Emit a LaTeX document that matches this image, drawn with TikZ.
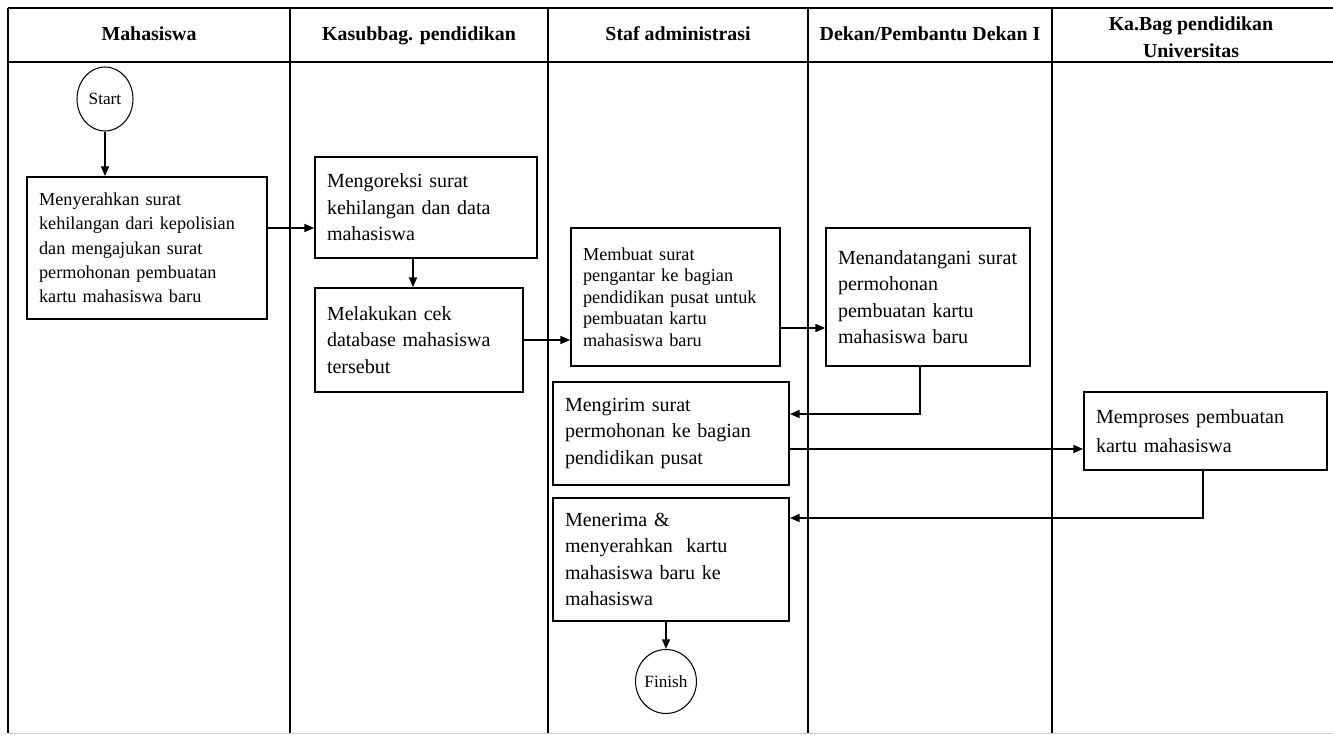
\documentclass[tikz,border=0pt]{standalone}
\usepackage{fontspec}
\setmainfont{Liberation Serif}
\usetikzlibrary{shapes.geometric,arrows.meta}
\begin{document}
\begin{tikzpicture}[x=0.02cm, y=-0.02cm,
  lane/.style={line width=0.85pt},
  head/.style={font=\bfseries\fontsize{11.3}{15.4}\selectfont, align=center},
  stepbox/.style={draw, line width=1pt, align=left, inner xsep=0.24cm, fill=white},
  smalltxt/.style={font=\fontsize{10.4}{13.8}\selectfont},
  bigtxt/.style={font=\fontsize{11.4}{15.1}\selectfont},
  term/.style={draw, ellipse, line width=0.6pt, inner sep=0pt, minimum width=1.12cm, minimum height=1.28cm, font=\fontsize{9.8}{11}\selectfont},
  flow/.style={line width=1pt, -{Triangle[length=5.5pt,width=4.5pt]}}]
\useasboundingbox (0,0) rectangle (1333,736);
% swimlanes
\draw[line width=1.4pt] (8,8) -- (1333,8);
\draw[line width=1.4pt] (8,62) -- (1333,62);
\draw[gray!40] (8,733) -- (1333,733);
\draw[lane] (8,8) -- (8,733);
\draw[lane] (290,8) -- (290,733);
\draw[lane] (548,8) -- (548,733);
\draw[lane] (808,8) -- (808,733);
\draw[lane] (1052,8) -- (1052,733);
\node[head, anchor=base] (hmhs) at (149,41) {Mahasiswa};
\node[head, anchor=base] (hkasub) at (419,41) {Kasubbag. pendidikan};
\node[head, anchor=base] (hstaf) at (678,41) {Staf administrasi};
\node[head, anchor=base] (hdekan) at (930,41) {Dekan/Pembantu Dekan I};
\node[head] (hkabag) at (1191,37) {Ka.Bag pendidikan\\Universitas};
% steps
\node[term] (start) at (105,99) {Start};
\node[stepbox, smalltxt, text width=4.32cm, minimum height=2.84cm] (serah) at (147,248) {Menyerahkan surat\\kehilangan dari kepolisian\\dan mengajukan surat\\permohonan pembuatan\\kartu mahasiswa baru};
\node[stepbox, bigtxt, text width=3.96cm, minimum height=2.02cm] (koreksi) at (426,207.5) {Mengoreksi surat\\kehilangan dan data\\mahasiswa};
\node[stepbox, bigtxt, text width=3.68cm, minimum height=2.08cm] (cek) at (419,340) {Melakukan cek\\database mahasiswa\\tersebut};
\node[stepbox, font=\fontsize{10.4}{12.3}\selectfont, text width=3.70cm, minimum height=2.76cm] (buat) at (675.5,297) {Membuat surat\\pengantar ke bagian\\pendidikan pusat untuk\\pembuatan kartu\\mahasiswa baru};
\node[stepbox, bigtxt, text width=3.60cm, minimum height=2.76cm] (ttd) at (928,297) {Menandatangani surat\\permohonan\\pembuatan kartu\\mahasiswa baru};
\node[stepbox, bigtxt, text width=4.24cm, minimum height=2.06cm] (kirim) at (671,433.5) {Mengirim surat\\permohonan ke bagian\\pendidikan pusat};
\node[stepbox, font=\fontsize{11.4}{16.5}\selectfont, text width=4.38cm, minimum height=1.56cm] (proses) at (1205.5,431) {Memproses pembuatan\\kartu mahasiswa};
\node[stepbox, bigtxt, text width=4.24cm, minimum height=2.46cm] (terima) at (671,559.5) {Menerima \&\\menyerahkan\ \ kartu\\mahasiswa baru ke\\mahasiswa};
\node[term] (finish) at (666,681.5) {Finish};
% connectors
\draw[flow] (start) -- (start |- serah.north);
\draw[flow] (serah.east |- 0,228) -- (koreksi.west |- 0,228);
\draw[flow] (koreksi.south -| 413,0) -- (cek.north -| 413,0);
\draw[flow] (cek.east) -- (cek.east -| buat.west);
\draw[flow] (buat.east |- 0,328) -- (ttd.west |- 0,328);
\draw[flow] (ttd.south -| 920,0) |- (kirim.east |- 0,414);
\draw[flow] (kirim.east |- 0,449) -- (proses.west |- 0,449);
\draw[flow] (proses.south -| 1203,0) |- (terima.east |- 0,518);
\draw[flow] (finish |- terima.south) -- (finish);
\end{tikzpicture}
\end{document}
